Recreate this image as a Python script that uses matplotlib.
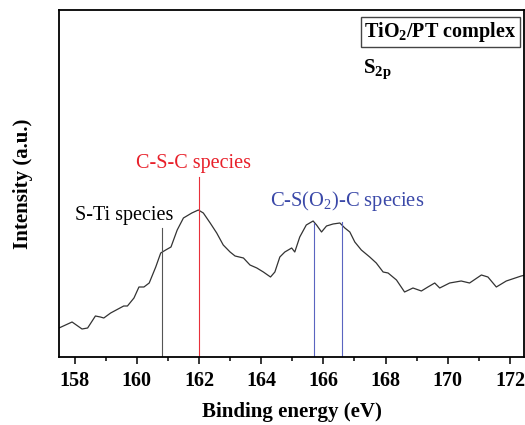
import matplotlib
matplotlib.use("Agg")
import matplotlib.pyplot as plt
from matplotlib.ticker import MultipleLocator

plt.rcParams["font.family"] = ["Liberation Serif", "DejaVu Serif"]
plt.rcParams["mathtext.default"] = "regular"

# S2p spectrum (intensity in arbitrary units)
energy = [157.5, 157.92, 158.24, 158.42, 158.67, 158.83, 158.94, 159.16, 159.58, 159.7,
          159.91, 160.07, 160.23, 160.4, 160.61, 160.77, 160.93, 161.1, 161.3, 161.5,
          161.77, 161.98, 162.14, 162.36, 162.57, 162.78, 163.0, 163.16, 163.43, 163.64,
          163.86, 164.07, 164.3, 164.44, 164.6, 164.76, 164.98, 165.08, 165.24, 165.45,
          165.67, 165.78, 165.94, 166.1, 166.31, 166.53, 166.69, 166.85, 167.01, 167.22,
          167.49, 167.7, 167.92, 168.08, 168.35, 168.61, 168.88, 169.15, 169.36, 169.58,
          169.74, 170.06, 170.43, 170.7, 171.08, 171.29, 171.56, 171.88, 172.36, 172.5]
intensity = [29, 35, 28, 29, 41, 40, 39, 44, 51, 51,
             59, 70, 70, 74, 90, 104, 107, 110, 127, 139,
             144, 147, 144, 134, 124, 112, 105, 101, 99, 92,
             89, 85, 80, 85, 100, 105, 109, 105, 120, 132,
             136, 132, 125, 131, 133, 134, 129, 125, 115, 107,
             100, 94, 85, 84, 77, 65, 69, 66, 70, 74,
             69, 74, 76, 74, 82, 80, 70, 76, 81, 82]

# component positions (eV) and how high the marker lines reach
line_pos = [160.8, 162.0, 165.7, 166.6]
line_top = [129, 180, 134, 135]
line_colors = ["#555555", "#e8303a", "#5a64c0", "#5a64c0"]

fig = plt.figure(figsize=(5.25, 4.25), dpi=100)
ax = fig.add_axes([0.1124, 0.16, 0.8857, 0.8165])

ax.plot(energy, intensity, color="#333333", lw=0.9)
for x, top, c in zip(line_pos, line_top, line_colors):
    ax.plot([x, x], [0, top], color=c, lw=0.8)

ax.set_xlim(157.5, 172.45)
ax.set_ylim(0, 347)
ax.xaxis.set_major_locator(MultipleLocator(2))
ax.xaxis.set_minor_locator(MultipleLocator(1))
ax.set_yticks([])
ax.tick_params(axis="x", which="major", length=5, width=1.1, labelsize=14.5, pad=5)
ax.tick_params(axis="x", which="minor", length=3, width=1.1)
for lab in ax.get_xticklabels():
    lab.set_fontweight("bold")
for s in ax.spines.values():
    s.set_linewidth(1.3)

ax.set_xlabel("Binding energy (eV)", fontsize=15, fontweight="bold", labelpad=8)
ax.set_ylabel("Intensity (a.u.)", fontsize=15, fontweight="bold", labelpad=19)

ax.text(158.02, 137, "S-Ti species", fontsize=14.5, color="black")
ax.text(159.99, 189, "C-S-C species", fontsize=14.5, color="#e8202a")
ax.text(164.28, 151, "C-S(O$_2$)-C species", fontsize=14.8, color="#3a48a8")

ax.text(167.32, 320, "TiO$_2$/PT complex", fontsize=14.5, fontweight="bold",
        bbox=dict(boxstyle="square,pad=0.15", fc="white", ec="#444444", lw=1))
ax.text(167.28, 284, "S$_{2p}$", fontsize=15, fontweight="bold")

fig.savefig("out.png", dpi=100)
